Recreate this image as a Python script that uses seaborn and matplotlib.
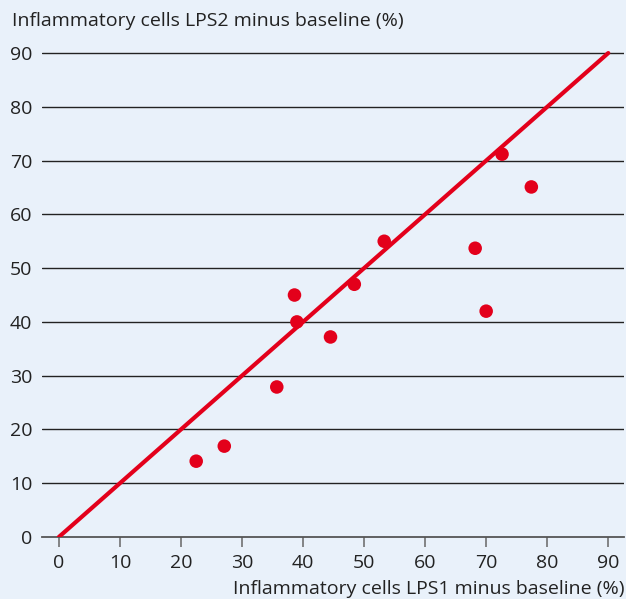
import matplotlib
matplotlib.use("Agg")
import matplotlib.pyplot as plt
import seaborn as sns
import pandas as pd

# Werte
lps1 = [22.5, 27.1, 35.7, 38.6, 39.0, 44.5, 48.4, 53.3, 68.2, 70.0, 72.6, 77.4]
lps2 = [14.1, 16.9, 27.9, 45.0, 40.0, 37.2, 47.0, 55.0, 53.7, 42.0, 71.2, 65.1]
identity_x = [0, 90]
identity_y = [0, 90]
ticks = [0, 10, 20, 30, 40, 50, 60, 70, 80, 90]

df = pd.DataFrame({"lps1": lps1, "lps2": lps2})
line_df = pd.DataFrame({"x": identity_x, "y": identity_y})

bg = "#e9f1fa"
red = "#e3001b"
txt = "#222222"
fs = 14

sns.set_theme(style="white")
plt.rcParams["font.family"] = ["Open Sans", "DejaVu Sans"]

fig = plt.figure(figsize=(6.26, 5.99), dpi=100, facecolor=bg)
ax = fig.add_axes([0.067, 0.1035, 0.93, 0.8214])
ax.set_facecolor(bg)

for t in ticks[1:]:
    ax.axhline(t, color="#222222", lw=1.0, zorder=1)

sns.lineplot(data=line_df, x="x", y="y", color=red, lw=3.0, ax=ax, zorder=3)
sns.scatterplot(data=df, x="lps1", y="lps2", color=red, s=95, edgecolor="none", ax=ax, zorder=4)

ax.set_xlim(-2.77, 92.6)
ax.set_ylim(0, 91.5)
ax.set_xticks(ticks)
ax.set_yticks(ticks)

for side in ["top", "right", "left"]:
    ax.spines[side].set_visible(False)
ax.spines["bottom"].set_color("#555555")
ax.spines["bottom"].set_linewidth(1.3)

ax.tick_params(axis="x", direction="out", length=7.5, width=1.1, color="#666666",
               labelsize=fs, labelcolor=txt, pad=5, bottom=True)
ax.tick_params(axis="y", length=0, labelsize=fs, labelcolor=txt, pad=7, left=False)

ax.set_xlabel("Inflammatory cells LPS1 minus baseline (%)", loc="right", fontsize=fs,
              color=txt, labelpad=5.5)
ax.set_ylabel("")
fig.text(12 / 626, 1 - 21 / 599, "Inflammatory cells LPS2 minus baseline (%)",
         fontsize=fs, color=txt, va="center", ha="left")

fig.savefig("out.png", dpi=100, facecolor=bg)
plt.close(fig)
